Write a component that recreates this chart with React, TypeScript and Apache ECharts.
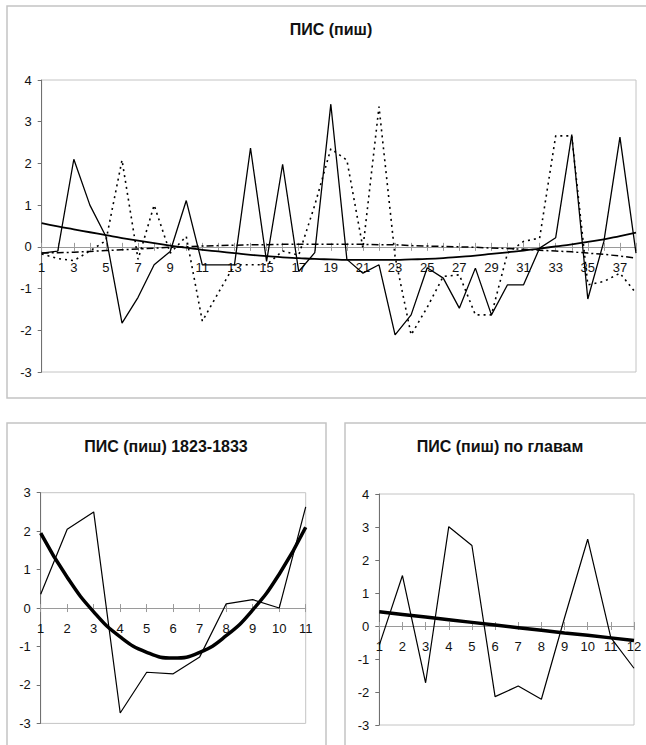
import React, { useEffect, useRef } from "react";
import * as echarts from "echarts";

// ---- Top chart: ПИС (пиш) ----
const topCategories = Array.from({ length: 38 }, (_, i) => String(i + 1));
const topMain = [
  -0.15, -0.1, 2.1, 1.0, 0.25, -1.83, -1.21, -0.43, -0.11, 1.11,
  -0.43, -0.43, -0.43, 2.37, -0.35, 1.98, -0.59, -0.14, 3.42, -0.3,
  -0.63, -0.43, -2.11, -1.63, -0.5, -0.75, -1.47, -0.51, -1.63, -0.91,
  -0.91, -0.03, 0.22, 2.69, -1.25, 0.13, 2.63, -0.15,
];
const topDotted = [
  -0.17, -0.28, -0.33, -0.1, 0.15, 2.08, -0.3, 1.0, -0.15, 0.25,
  -1.78, -1.1, -0.43, -0.43, -0.43, -0.1, -0.2, 1.0, 2.35, 2.08,
  -0.03, 3.36, -0.23, -2.11, -1.45, -0.71, -0.67, -1.63, -1.63, -0.15,
  0.13, 0.21, 2.66, 2.66, -0.91, -0.83, -0.63, -1.11,
];
const topDashDot = [
  -0.15, -0.14, -0.13, -0.11, -0.09, -0.07, -0.05, -0.03, -0.01, 0.0,
  0.02, 0.03, 0.04, 0.05, 0.05, 0.06, 0.06, 0.06, 0.06, 0.06,
  0.06, 0.05, 0.05, 0.03, 0.02, 0.01, 0.0, -0.01, -0.03, -0.04,
  -0.06, -0.08, -0.1, -0.12, -0.15, -0.18, -0.22, -0.27,
];
const topTrend = [
  0.57, 0.49, 0.42, 0.35, 0.28, 0.21, 0.15, 0.09, 0.03, -0.02,
  -0.07, -0.11, -0.15, -0.19, -0.22, -0.25, -0.27, -0.29, -0.3, -0.31,
  -0.31, -0.31, -0.31, -0.3, -0.29, -0.27, -0.24, -0.21, -0.17, -0.13,
  -0.09, -0.04, 0.01, 0.06, 0.12, 0.18, 0.26, 0.34,
];

// ---- Bottom-left: ПИС (пиш) 1823-1833 ----
const blCategories = ["1", "2", "3", "4", "5", "6", "7", "8", "9", "10", "11"];
const blMain = [0.36, 2.05, 2.5, -2.73, -1.67, -1.71, -1.27, 0.11, 0.22, 0.0, 2.63];
const blTrend = [1.95, 0.8, -0.1, -0.75, -1.15, -1.3, -1.15, -0.72, -0.05, 0.88, 2.1];

// ---- Bottom-right: ПИС (пиш) по главам ----
const brCategories = ["1", "2", "3", "4", "5", "6", "7", "8", "9", "10", "11", "12"];
const brMain = [-0.58, 1.53, -1.72, 3.01, 2.44, -2.14, -1.82, -2.22, 0.25, 2.63, -0.35, -1.28];
const brTrend = [0.43, 0.35, 0.27, 0.19, 0.11, 0.03, -0.05, -0.13, -0.21, -0.28, -0.36, -0.44];

const titles = ["ПИС (пиш)", "ПИС (пиш) 1823-1833", "ПИС (пиш) по главам"];

const FONT = '"Liberation Sans", Arial, Helvetica, sans-serif';

const grids = [
  { left: 41.7, top: 80, width: 594.3, height: 292, min: -3, max: 4 },
  { left: 40.7, top: 492.7, width: 265, height: 230.7, min: -3, max: 3 },
  { left: 379.3, top: 494, width: 254.7, height: 231, min: -3, max: 4 },
];

function zeroOffset(g: { height: number; min: number; max: number }) {
  // distance from grid bottom to the value 0, so the category axis sits on y = 0
  return -(g.height * (0 - g.min)) / (g.max - g.min);
}

function xAxisFor(gridIndex: number, data: string[], labelInterval: number) {
  return {
    type: "category",
    gridIndex,
    data,
    boundaryGap: false,
    position: "bottom",
    offset: zeroOffset(grids[gridIndex]),
    axisLine: { onZero: false, lineStyle: { color: "#9a9a9a", width: 1 } },
    axisTick: { show: true, interval: 0, length: 4, lineStyle: { color: "#9a9a9a" } },
    axisLabel: {
      interval: labelInterval,
      margin: 14,
      fontSize: 13,
      color: "#111",
      fontFamily: FONT,
    },
    splitLine: { show: false },
  };
}

// companion axis drawing the upper half of the crossing tick marks
function xTickAxisFor(gridIndex: number, data: string[]) {
  return {
    type: "category",
    gridIndex,
    data,
    boundaryGap: false,
    position: "bottom",
    offset: zeroOffset(grids[gridIndex]),
    axisLine: { show: false, onZero: false },
    axisTick: { show: true, inside: true, interval: 0, length: 4, lineStyle: { color: "#9a9a9a" } },
    axisLabel: { show: false },
    splitLine: { show: false },
  };
}

function yAxisFor(gridIndex: number) {
  const g = grids[gridIndex];
  return {
    type: "value",
    gridIndex,
    min: g.min,
    max: g.max,
    interval: 1,
    axisLine: { show: true, onZero: false, lineStyle: { color: "#707070", width: 1 } },
    axisTick: { show: true, length: 4, lineStyle: { color: "#707070" } },
    axisLabel: { margin: 10, fontSize: 13, color: "#111", fontFamily: FONT },
    splitLine: { show: false },
  };
}

function titleText(text: string, x: number, y: number) {
  return {
    type: "text",
    x,
    y,
    silent: true,
    style: {
      text,
      fill: "#111",
      font: `bold 16px ${FONT}`,
      align: "center",
      verticalAlign: "middle",
      textAlign: "center",
      textVerticalAlign: "middle",
    },
  };
}

function frame(x: number, y: number, w: number, h: number) {
  return {
    type: "rect",
    silent: true,
    shape: { x, y, width: w, height: h },
    style: { fill: "none", stroke: "#c4c4c4", lineWidth: 1.5 },
  };
}

export default function App() {
  const ref = useRef<HTMLDivElement>(null);

  useEffect(() => {
    document.body.style.margin = "0";
    if (!ref.current) return;
    const chart = echarts.init(ref.current, undefined, { renderer: "svg" });

    const line = (
      xi: number,
      data: number[],
      width: number,
      type: any = "solid",
      smooth = false
    ) => ({
      type: "line",
      xAxisIndex: xi,
      yAxisIndex: xi,
      data,
      symbol: "none",
      smooth,
      lineStyle: { color: "#000", width, type },
      z: 3,
    });

    chart.setOption({
      animation: false,
      backgroundColor: "#fff",
      textStyle: { fontFamily: FONT },
      graphic: [
        frame(7, 6, 660, 392),
        frame(7, 423, 319, 340),
        frame(345, 423, 320, 340),
        titleText(titles[0], 331, 29),
        titleText(titles[1], 166, 446),
        titleText(titles[2], 500, 446),
      ],
      grid: grids.map((g) => ({
        left: g.left,
        top: g.top,
        width: g.width,
        height: g.height,
        show: true,
        borderColor: "#c4c4c4",
        borderWidth: 1,
      })),
      xAxis: [
        xAxisFor(0, topCategories, 1),
        xAxisFor(1, blCategories, 0),
        xAxisFor(2, brCategories, 0),
        xTickAxisFor(0, topCategories),
        xTickAxisFor(1, blCategories),
        xTickAxisFor(2, brCategories),
      ],
      yAxis: [yAxisFor(0), yAxisFor(1), yAxisFor(2)],
      series: [
        line(0, topDashDot, 1.5, [7, 3, 2, 3]),
        line(0, topDotted, 1.6, [2, 4]),
        line(0, topTrend, 1.8, "solid", true),
        line(0, topMain, 1.3),
        line(1, blTrend, 3.5, "solid", true),
        line(1, blMain, 1.2),
        line(2, brTrend, 3.5),
        line(2, brMain, 1.2),
      ],
    });

    return () => chart.dispose();
  }, []);

  return <div ref={ref} style={{ width: 646, height: 745 }} />;
}
